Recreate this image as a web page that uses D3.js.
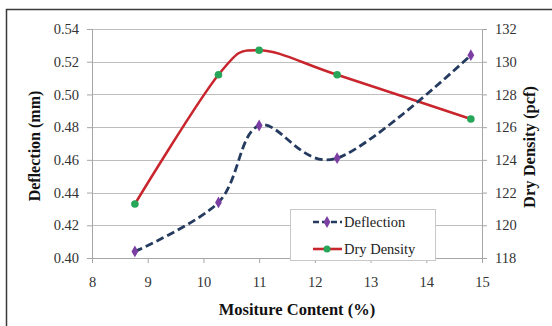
<!DOCTYPE html>
<html>
<head>
<meta charset="utf-8">
<script src="https://cdn.jsdelivr.net/npm/d3@7"></script>
<style>
  body { margin: 0; background: #fff; }
  svg text { font-family: "Liberation Serif", "Times New Roman", serif; fill: #222; }
</style>
</head>
<body>
<svg id="chart" width="552" height="326"></svg>
<script>
// values
var moisture = [8.77, 10.27, 11.0, 12.4, 14.8];
var deflection = [0.404, 0.434, 0.481, 0.461, 0.524];
var dryDensity = [121.3, 129.2, 130.7, 129.2, 126.5];
var xTicks = [8, 9, 10, 11, 12, 13, 14, 15];
var leftTicks = [0.40, 0.42, 0.44, 0.46, 0.48, 0.50, 0.52, 0.54];
var rightTicks = [118, 120, 122, 124, 126, 128, 130, 132];
var seriesNames = ['Deflection', 'Dry Density'];

var svg = d3.select('#chart');
var margin = {top: 29, right: 70, bottom: 68, left: 92};
var width = 552 - margin.left - margin.right;
var height = 326 - margin.top - margin.bottom;

// outer frame (only left and top edges visible)
svg.append('rect')
    .attr('x', 6.5).attr('y', 9.5)
    .attr('width', 600).attr('height', 400)
    .style('fill', 'none').style('stroke', '#3a3a3a').style('stroke-width', 1.5);

var g = svg.append('g')
    .attr('transform', 'translate(' + margin.left + ',' + margin.top + ')');

var x = d3.scaleLinear().domain([8, 15]).range([0, width]);
var yL = d3.scaleLinear().domain([0.40, 0.54]).range([height, 0]);
var yR = d3.scaleLinear().domain([118, 132]).range([height, 0]);

// gridlines
g.selectAll('.grid').data(leftTicks.slice(1)).enter().append('line')
    .attr('class', 'grid')
    .attr('x1', 0).attr('x2', width)
    .attr('y1', function(d) { return Math.round(yL(d)) + 0.5; })
    .attr('y2', function(d) { return Math.round(yL(d)) + 0.5; })
    .style('stroke', '#bdbdbd').style('stroke-width', 1);

var xAxis = d3.axisBottom(x).tickValues(xTicks).tickFormat(d3.format('d')).tickSize(5).tickPadding(14);
var yAxisL = d3.axisLeft(yL).tickValues(leftTicks).tickFormat(d3.format('.2f')).tickSize(5).tickPadding(8);
var yAxisR = d3.axisRight(yR).tickValues(rightTicks).tickFormat(d3.format('d')).tickSize(5).tickPadding(8);

function styleAxis(sel) {
    sel.attr('font-family', '"Liberation Serif", serif').attr('font-size', 14.5);
    sel.selectAll('path, line').style('stroke', '#a6a6a6');
    sel.select('.domain').remove();
    sel.selectAll('text').style('font-size', '14.5px').style('fill', '#333');
}

g.append('g').attr('class', 'x-axis')
    .attr('transform', 'translate(0,' + height + ')')
    .call(xAxis).call(styleAxis);
g.append('g').attr('class', 'y-axis-left').call(yAxisL).call(styleAxis);
g.append('g').attr('class', 'y-axis-right')
    .attr('transform', 'translate(' + width + ',0)')
    .call(yAxisR).call(styleAxis);

// axis lines
g.append('line').attr('x1', 0).attr('x2', width).attr('y1', height + 0.5).attr('y2', height + 0.5)
    .style('stroke', '#a6a6a6');
g.append('line').attr('x1', 0.5).attr('x2', 0.5).attr('y1', 0).attr('y2', height)
    .style('stroke', '#a6a6a6');
g.append('line').attr('x1', width + 0.5).attr('x2', width + 0.5).attr('y1', 0).attr('y2', height)
    .style('stroke', '#a6a6a6');

// smoothed lines like excel
var deflLine = d3.line()
    .x(function(d, i) { return x(moisture[i]); })
    .y(function(d) { return yL(d); })
    .curve(d3.curveCardinal.tension(0));
var densLine = d3.line()
    .x(function(d, i) { return x(moisture[i]); })
    .y(function(d) { return yR(d); })
    .curve(d3.curveCardinal.tension(0));

g.append('path').datum(dryDensity)
    .attr('d', densLine)
    .style('fill', 'none').style('stroke', '#c8252c').style('stroke-width', 2.5);

g.append('path').datum(deflection)
    .attr('d', deflLine)
    .style('fill', 'none').style('stroke', '#243a5e').style('stroke-width', 2.8)
    .style('stroke-dasharray', '8,4');

var diamond = d3.symbol().type(d3.symbolDiamond).size(40);

g.selectAll('.dens-pt').data(dryDensity).enter().append('circle')
    .attr('class', 'dens-pt')
    .attr('cx', function(d, i) { return x(moisture[i]); })
    .attr('cy', function(d) { return yR(d); })
    .attr('r', 3.8)
    .style('fill', '#27a65a');

g.selectAll('.defl-pt').data(deflection).enter().append('path')
    .attr('class', 'defl-pt')
    .attr('d', diamond)
    .attr('transform', function(d, i) { return 'translate(' + x(moisture[i]) + ',' + yL(d) + ')'; })
    .style('fill', '#7b3fa3');

// axis titles
svg.append('text')
    .attr('x', 297).attr('y', 315)
    .attr('text-anchor', 'middle')
    .style('font-size', '16.5px').style('font-weight', 'bold').style('fill', '#111')
    .text('Mositure Content (%)');

svg.append('text')
    .attr('transform', 'translate(40,146) rotate(-90)')
    .attr('text-anchor', 'middle')
    .style('font-size', '16px').style('font-weight', 'bold').style('fill', '#111')
    .text('Deflection (mm)');

svg.append('text')
    .attr('transform', 'translate(535,147) rotate(-90)')
    .attr('text-anchor', 'middle')
    .style('font-size', '16.5px').style('font-weight', 'bold').style('fill', '#111')
    .text('Dry Density (pcf)');

// legend
var legend = svg.append('g').attr('transform', 'translate(290,209)');
legend.append('rect')
    .attr('x', 0.5).attr('y', 0.5).attr('width', 145).attr('height', 51)
    .style('fill', '#fff').style('stroke', '#c8c8c8');

var items = legend.selectAll('.item').data(seriesNames).enter().append('g')
    .attr('class', 'item')
    .attr('transform', function(d, i) { return 'translate(0,' + (13 + i * 27) + ')'; });

items.append('line')
    .attr('x1', 23).attr('x2', 52).attr('y1', 0).attr('y2', 0)
    .style('stroke', function(d, i) { return i === 0 ? '#243a5e' : '#c8252c'; })
    .style('stroke-width', 2.6)
    .style('stroke-dasharray', function(d, i) { return i === 0 ? '6,3' : null; });

items.each(function(d, i) {
    var sel = d3.select(this);
    if (i === 0) {
        sel.append('path').attr('d', diamond).attr('transform', 'translate(37,0)').style('fill', '#7b3fa3');
    } else {
        sel.append('circle').attr('cx', 37).attr('cy', 0).attr('r', 3.5).style('fill', '#27a65a');
    }
});

items.append('text')
    .attr('x', 54).attr('y', 5)
    .style('font-size', '14.5px')
    .text(function(d) { return d; });
</script>
</body>
</html>
